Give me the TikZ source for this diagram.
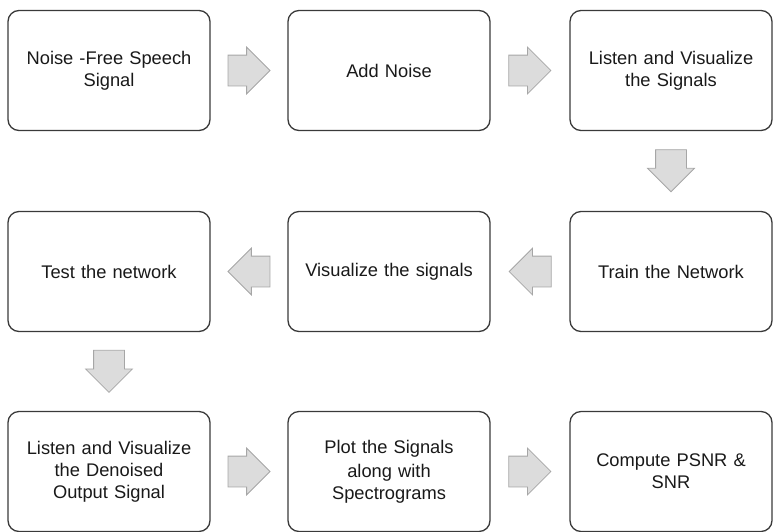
\documentclass[tikz,border=0pt]{standalone}
\usepackage{fontspec}
\setmainfont{Liberation Sans}
\usepackage{tikz}
\usetikzlibrary{arrows.meta,positioning,shapes.arrows}
\definecolor{boxline}{HTML}{3A3A3A}
\definecolor{arrowfill}{HTML}{DCDCDC}
\definecolor{arrowline}{HTML}{A6A6A6}

\begin{document}
\begin{tikzpicture}[
node distance=200pt,
block/.style={rectangle, draw=boxline, line width=1.3pt, rounded corners=11pt, minimum width=202pt, minimum height=120pt, text width=190pt, align=center, text=black!90, font=\fontsize{18.3}{22}\selectfont},
bigarrow/.style={single arrow, draw=arrowline, fill=arrowfill, line width=0.8pt, minimum height=42pt, inner xsep=0pt, inner ysep=15pt, single arrow head extend=8pt, sloped, allow upside down, pos=0.4}
]
\useasboundingbox (0,0) rectangle (773pt,-531pt);
\node (clean) [block] at (109pt,-70.5pt) {Noise -Free Speech\\Signal};
\node (noise) [block, right of=clean, xshift=80pt] {Add Noise};
\node (listen) [block, right of=noise, xshift=82pt] {Listen and Visualize\\the Signals};
\node (train) [block, below of=listen, yshift=-1pt] {Train the Network};
\node (visual) [block, left of=train, xshift=-82pt] {Visualize the signals};
\node (test) [block, left of=visual, xshift=-80pt] {Test the network};
\node (denoised) [block, below of=test] {Listen and Visualize\\the Denoised\\Output Signal};
\node (plot) [block, right of=denoised, xshift=80pt] {Plot the Signals\\[2pt]along with\\Spectrograms};
\node (psnr) [block, right of=plot, xshift=82pt] {Compute PSNR \&\\SNR};

\path (clean) -- node[bigarrow] {} (noise);
\path (noise) -- node[bigarrow] {} (listen);
\path (listen) -- node[bigarrow] {} (train);
\path (train) -- node[bigarrow] {} (visual);
\path (visual) -- node[bigarrow] {} (test);
\path (test) -- node[bigarrow] {} (denoised);
\path (denoised) -- node[bigarrow] {} (plot);
\path (plot) -- node[bigarrow] {} (psnr);
\end{tikzpicture}
\end{document}
